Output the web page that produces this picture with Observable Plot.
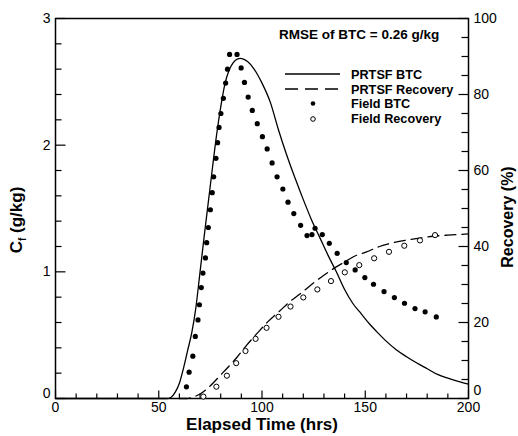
<!DOCTYPE html>
<html>
<head>
<meta charset="utf-8">
<script src="https://cdn.jsdelivr.net/npm/d3@7"></script>
<script src="https://cdn.jsdelivr.net/npm/@observablehq/plot@0.6"></script>
<style>
  html, body { margin: 0; padding: 0; background: #fff; }
  #chart svg { display: block; }
</style>
</head>
<body>
<div id="chart"></div>
<script>
// ---- Field breakthrough curve (filled dots): time (hrs), concentration (g/kg)
const fieldBtcTime = [63.4, 64.7, 66.5, 67.7, 69.0, 69.7, 70.6, 71.4, 72.6, 73.2, 74.0, 75.0, 75.9, 76.6, 77.7, 78.5, 79.2, 80.1, 81.3, 82.4, 83.3, 84.3, 87.9, 89.9, 91.5, 93.3, 95.3, 97.7, 100.2, 102.5, 104.9, 107.3, 110.1, 112.6, 115.4, 118.7, 121.8, 124.2, 125.7, 129.2, 132.6, 136.4, 140.8, 145.1, 149.8, 154.0, 159.1, 164.1, 169.0, 174.1, 179.0, 184.4];
const fieldBtcConc = [0.092, 0.208, 0.334, 0.49, 0.62, 0.74, 0.876, 0.99, 1.11, 1.23, 1.35, 1.49, 1.625, 1.75, 1.896, 2.02, 2.14, 2.25, 2.37, 2.49, 2.60, 2.716, 2.716, 2.61, 2.495, 2.38, 2.274, 2.17, 2.067, 1.97, 1.86, 1.75, 1.654, 1.55, 1.46, 1.367, 1.286, 1.294, 1.344, 1.294, 1.225, 1.146, 1.073, 1.015, 0.955, 0.902, 0.844, 0.797, 0.752, 0.71, 0.684, 0.644];

// ---- Field recovery (open circles): time (hrs), recovery (%)
const fieldRecTime = [71.6, 77.9, 83.0, 87.5, 92.0, 96.9, 102.2, 108.0, 113.8, 120.0, 126.8, 133.4, 140.1, 147.1, 154.3, 161.5, 168.9, 176.5, 183.8];
const fieldRecPct = [0.5, 3.1, 6.0, 9.3, 12.5, 15.7, 18.6, 21.5, 24.2, 26.6, 28.7, 30.9, 33.2, 35.1, 36.9, 38.6, 40.2, 41.6, 43.0];

// ---- PRTSF model breakthrough curve (solid line)
const modelBtcTime = [0, 50, 54, 56, 58, 60, 62, 64, 66, 68, 70, 72, 74, 76, 78, 80, 82, 84, 86, 88, 89.4, 91, 93, 96, 100, 104, 108, 112, 116, 120, 124, 128, 132, 136, 140, 144, 148, 152, 156, 160, 165, 170, 175, 180, 185, 190, 195, 200];
const modelBtcConc = [0, 0, 0, 0.01, 0.05, 0.12, 0.24, 0.38, 0.52, 0.72, 1.00, 1.28, 1.55, 1.82, 2.08, 2.30, 2.48, 2.59, 2.65, 2.68, 2.685, 2.68, 2.66, 2.605, 2.49, 2.34, 2.12, 1.92, 1.74, 1.57, 1.41, 1.27, 1.13, 1.00, 0.86, 0.75, 0.67, 0.59, 0.52, 0.455, 0.385, 0.33, 0.28, 0.235, 0.19, 0.16, 0.135, 0.113];

// ---- PRTSF model recovery (dashed line): time (hrs), recovery (%)
const modelRecTime = [60, 63.6, 66.8, 70, 74.9, 80, 84, 87.8, 92.5, 97.4, 103, 108.7, 113.5, 118.4, 124, 129.6, 135, 140.9, 145, 150.6, 156.9, 163.4, 170, 176.3, 183, 190, 200];
const modelRecPct = [0, 0, 0.4, 1.2, 3.3, 6.2, 8.5, 10.8, 14, 17, 20.3, 23.1, 25.5, 27.5, 30, 32.3, 34.3, 36.2, 37.5, 38.6, 40.0, 41.0, 41.7, 42.2, 42.7, 43.0, 43.3];

// ---- Tick values
const xTicks = [0, 50, 100, 150, 200];
const xMinorTicks = [10, 20, 30, 40, 60, 70, 80, 90, 110, 120, 130, 140, 160, 170, 180, 190];
const yLeftTicks = [0, 1, 2, 3];
const yLeftMinorTicks = [0.2, 0.4, 0.6, 0.8, 1.2, 1.4, 1.6, 1.8, 2.2, 2.4, 2.6, 2.8];
const yRightTicks = [0, 20, 40, 60, 80, 100];
const yRightMinorTicks = [5, 10, 15, 25, 30, 35, 45, 50, 55, 65, 70, 75, 85, 90, 95];

// Right axis (0–100 %) shares the left axis (0–3 g/kg) frame
const pctToConc = 3 / 100;
const toConc = p => p * pctToConc;

const fieldBtc = fieldBtcTime.map((t, i) => ({t, c: fieldBtcConc[i]}));
const fieldRec = fieldRecTime.map((t, i) => ({t, pct: fieldRecPct[i]}));
const modelBtc = modelBtcTime.map((t, i) => ({t, c: modelBtcConc[i]}));
const modelRec = modelRecTime.map((t, i) => ({t, pct: modelRecPct[i]}));

const FONT = "'Liberation Sans', Arial, Helvetica, sans-serif";

// inward tick: straight line of length l from the anchor point on the frame edge
const tickShape = {draw(context, l) { context.moveTo(0, 0); context.lineTo(0, -l); }};
const tickMarks = (data, opts) => Plot.vector(data, {anchor: "start", shape: tickShape, stroke: "#000", strokeWidth: 1.2, strokeLinecap: "butt", ...opts});

const svg = Plot.plot({
  width: 518,
  height: 436,
  marginTop: 18,
  marginRight: 50,
  marginBottom: 38,
  marginLeft: 55,
  style: {fontFamily: FONT, fontSize: "14px", color: "#000", background: "#fff", overflow: "visible"},
  x: {domain: [0, 200]},
  y: {domain: [0, 3]},
  marks: [
    // inward tick marks
    tickMarks(xMinorTicks, {x: d => d, frameAnchor: "bottom", length: 5, rotate: 0}),
    tickMarks(xTicks, {x: d => d, frameAnchor: "bottom", length: 8, rotate: 0}),
    tickMarks(yLeftMinorTicks, {y: d => d, frameAnchor: "left", length: 6, rotate: 90}),
    tickMarks(yLeftTicks, {y: d => d, frameAnchor: "left", length: 10, rotate: 90}),
    tickMarks(yRightMinorTicks, {y: d => toConc(d), frameAnchor: "right", length: 7, rotate: -90}),
    tickMarks(yRightTicks, {y: d => toConc(d), frameAnchor: "right", length: 10, rotate: -90}),
    // tick labels
    Plot.axisX(xTicks, {tickSize: 0, tickPadding: 4, fontSize: 14, tickFormat: d => String(d), label: null}),
    Plot.axisY(yLeftTicks.filter(d => d > 0), {tickSize: 0, tickPadding: 5, fontSize: 14, tickFormat: d => String(d), label: null}),
    Plot.axisY([0], {tickSize: 0, tickPadding: 5, fontSize: 14, dy: -5, tickFormat: d => String(d), label: null}),
    Plot.axisY(yRightTicks.filter(d => d > 0).map(toConc), {anchor: "right", tickSize: 0, tickPadding: 5, fontSize: 14, tickFormat: d => String(Math.round(d / pctToConc)), label: null}),
    Plot.axisY([0], {anchor: "right", tickSize: 0, tickPadding: 5, fontSize: 14, dy: -8, tickFormat: d => String(d), label: null}),
    Plot.frame({stroke: "#000", strokeWidth: 1.5}),
    // data
    Plot.line(modelRec, {x: "t", y: d => toConc(d.pct), curve: "monotone-x", stroke: "#000", strokeWidth: 1.3, strokeDasharray: "11,6"}),
    Plot.line(modelBtc, {x: "t", y: "c", curve: "monotone-x", stroke: "#000", strokeWidth: 1.3}),
    Plot.dot(fieldBtc, {x: "t", y: "c", r: 2.6, fill: "#000", stroke: null}),
    Plot.dot(fieldRec, {x: "t", y: d => toConc(d.pct), r: 2.6, fill: "#fff", stroke: "#000", strokeWidth: 1})
  ]
});

const s = d3.select(svg);
// Axis titles
s.append("text")
  .attr("x", 262).attr("y", 430)
  .attr("text-anchor", "middle")
  .attr("font-family", FONT).attr("font-weight", "bold").attr("font-size", 17)
  .text("Elapsed Time (hrs)");

const lt = s.append("text")
  .attr("transform", "translate(22,220) rotate(-90)")
  .attr("text-anchor", "middle")
  .attr("font-family", FONT).attr("font-weight", "bold").attr("font-size", 17);
lt.append("tspan").text("C");
lt.append("tspan").attr("font-size", 10).attr("dy", 4).text("f");
lt.append("tspan").attr("dy", -4).text(" (g/kg)");

s.append("text")
  .attr("transform", "translate(513,217) rotate(-90)")
  .attr("text-anchor", "middle")
  .attr("font-family", FONT).attr("font-weight", "bold").attr("font-size", 16)
  .text("Recovery (%)");

// RMSE annotation
s.append("text")
  .attr("x", 279).attr("y", 39)
  .attr("text-anchor", "start")
  .attr("font-family", FONT).attr("font-weight", "bold").attr("font-size", 13.5)
  .text("RMSE of BTC = 0.26 g/kg");

// Legend
const leg = s.append("g").attr("text-anchor", "start").attr("font-family", FONT).attr("font-weight", "bold").attr("font-size", 12.7);
leg.append("line").attr("x1", 285).attr("x2", 340).attr("y1", 74).attr("y2", 74).attr("stroke", "#000").attr("stroke-width", 1.3);
leg.append("line").attr("x1", 285).attr("x2", 340).attr("y1", 89).attr("y2", 89).attr("stroke", "#000").attr("stroke-width", 1.3).attr("stroke-dasharray", "13,7");
leg.append("circle").attr("cx", 313).attr("cy", 103.5).attr("r", 2.3).attr("fill", "#000");
leg.append("circle").attr("cx", 313).attr("cy", 119).attr("r", 2.3).attr("fill", "#fff").attr("stroke", "#000");
leg.append("text").attr("x", 351).attr("y", 78.5).text("PRTSF BTC");
leg.append("text").attr("x", 351).attr("y", 93.5).text("PRTSF Recovery");
leg.append("text").attr("x", 351).attr("y", 108).text("Field BTC");
leg.append("text").attr("x", 351).attr("y", 123).text("Field Recovery");

document.getElementById("chart").appendChild(svg);
</script>
</body>
</html>
